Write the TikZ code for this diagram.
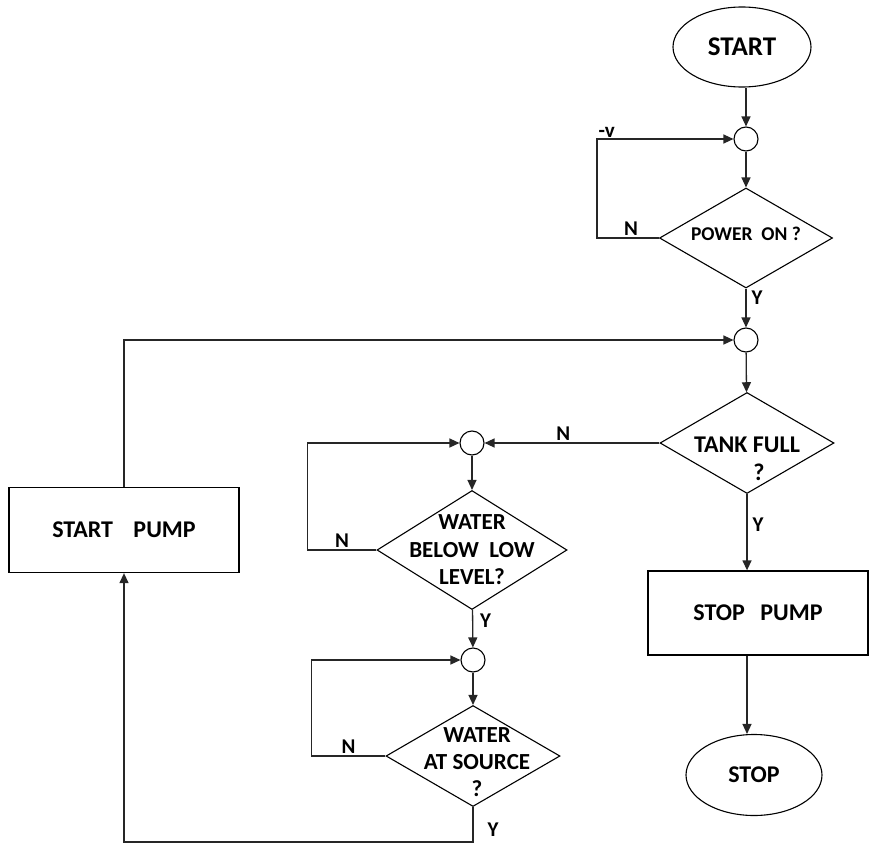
\documentclass[tikz,border=0pt]{standalone}
\usepackage{fontspec}
\setmainfont{Carlito}
\usetikzlibrary{arrows.meta,shapes.geometric}

\begin{document}
\begin{tikzpicture}[x=1pt, y=-1pt, >={Triangle[length=10pt,width=9pt]},
  line/.style={line width=1.3pt, draw=black!85},
  flow/.style={line, ->},
  term/.style={ellipse, draw, line width=1.1pt, inner sep=0pt},
  junc/.style={circle, draw, line width=1.1pt, minimum size=24pt, inner sep=0pt},
  decision/.style={diamond, draw, line width=1.1pt, inner sep=0pt},
  process/.style={rectangle, draw, line width=1.3pt, inner sep=0pt},
  big/.style={font=\fontsize{24}{28}\selectfont\bfseries, align=center},
  lbl/.style={font=\fontsize{21}{21}\selectfont\bfseries, inner sep=2pt}]
\useasboundingbox (0,0) rectangle (870,843);

% right column
\node[term, minimum width=138pt, minimum height=80pt, font=\fontsize{27}{30}\selectfont\bfseries] (start) at (742,47) {START};
\node[junc] (j1) at (746,139) {};
\node[decision, minimum width=173pt, minimum height=100pt,
  label={[font=\fontsize{19.5}{22}\selectfont\bfseries, yshift=4pt]center:{POWER\ \ ON ?}}] (power) at (746,238) {};
\node[junc] (j2) at (746,340) {};
\node[decision, minimum width=174pt, minimum height=101pt,
  label={[big, yshift=-16pt]center:{TANK FULL\\\hspace*{1em}?}}] (tank) at (747,443) {};
\node[process, minimum width=220pt, minimum height=84pt, big] (stoppump) at (758,613) {STOP\hspace{0.65em}PUMP};
\node[term, minimum width=136pt, minimum height=81pt, font=\fontsize{24}{28}\selectfont\bfseries] (stop) at (754,775) {STOP};

% middle column
\node[junc] (j3) at (472,443) {};
\node[decision, minimum width=190pt, minimum height=119pt,
  label={[big, font=\fontsize{23}{27.5}\selectfont\bfseries]center:{WATER\\BELOW\ \ LOW\\LEVEL?}}] (low) at (472,550) {};
\node[junc] (j4) at (473,660) {};
\node[decision, minimum width=174pt, minimum height=101pt,
  label={[big, font=\fontsize{23}{27}\selectfont\bfseries, yshift=-6pt, xshift=4pt]center:{WATER\\AT SOURCE\\?}}] (source) at (473,756) {};

% left
\node[process, minimum width=230pt, minimum height=85pt, big] (startpump) at (124,530) {START\hspace{0.85em}PUMP};

% connectors
\draw[flow] (start.south -| j1) -- (j1);
\draw[flow] (j1) -- (power);
\draw[flow] (power.west) -- node[lbl, above, pos=0.45] {N} ++(-62,0)
  |- node[lbl, above right, pos=0.5, inner sep=1pt] {-v} (j1);
\draw[flow] (power) -- node[lbl, below right, pos=0, xshift=3pt] {Y} (j2);
\draw[flow] (startpump.north) |- (j2);
\draw[flow] (j2) -- (tank);
\draw[flow] (tank) -- node[lbl, above, pos=0.55] {N} (j3);
\draw[flow] (tank) -- node[lbl, right, pos=0.4, xshift=3pt] {Y} (tank |- stoppump.north);
\draw[flow] (stoppump.south -| tank) -- (tank |- stop.north);

\draw[flow] (j3) -- (low);
\draw[flow] (low.west) -- node[lbl, above, pos=0.5] {N} ++(-69,0) |- (j3);
\draw[flow] (low) -- node[lbl, below right, pos=0, xshift=5pt, yshift=-2pt] {Y} (j4);
\draw[flow] (j4) -- (source);
\draw[flow] (source.west) -- node[lbl, above, pos=0.5] {N} ++(-74,0) |- (j4);
\draw[flow] (source.south) -- node[lbl, right=12pt, pos=0.65] {Y} ++(0,35) -| (startpump.south);
\end{tikzpicture}
\end{document}
